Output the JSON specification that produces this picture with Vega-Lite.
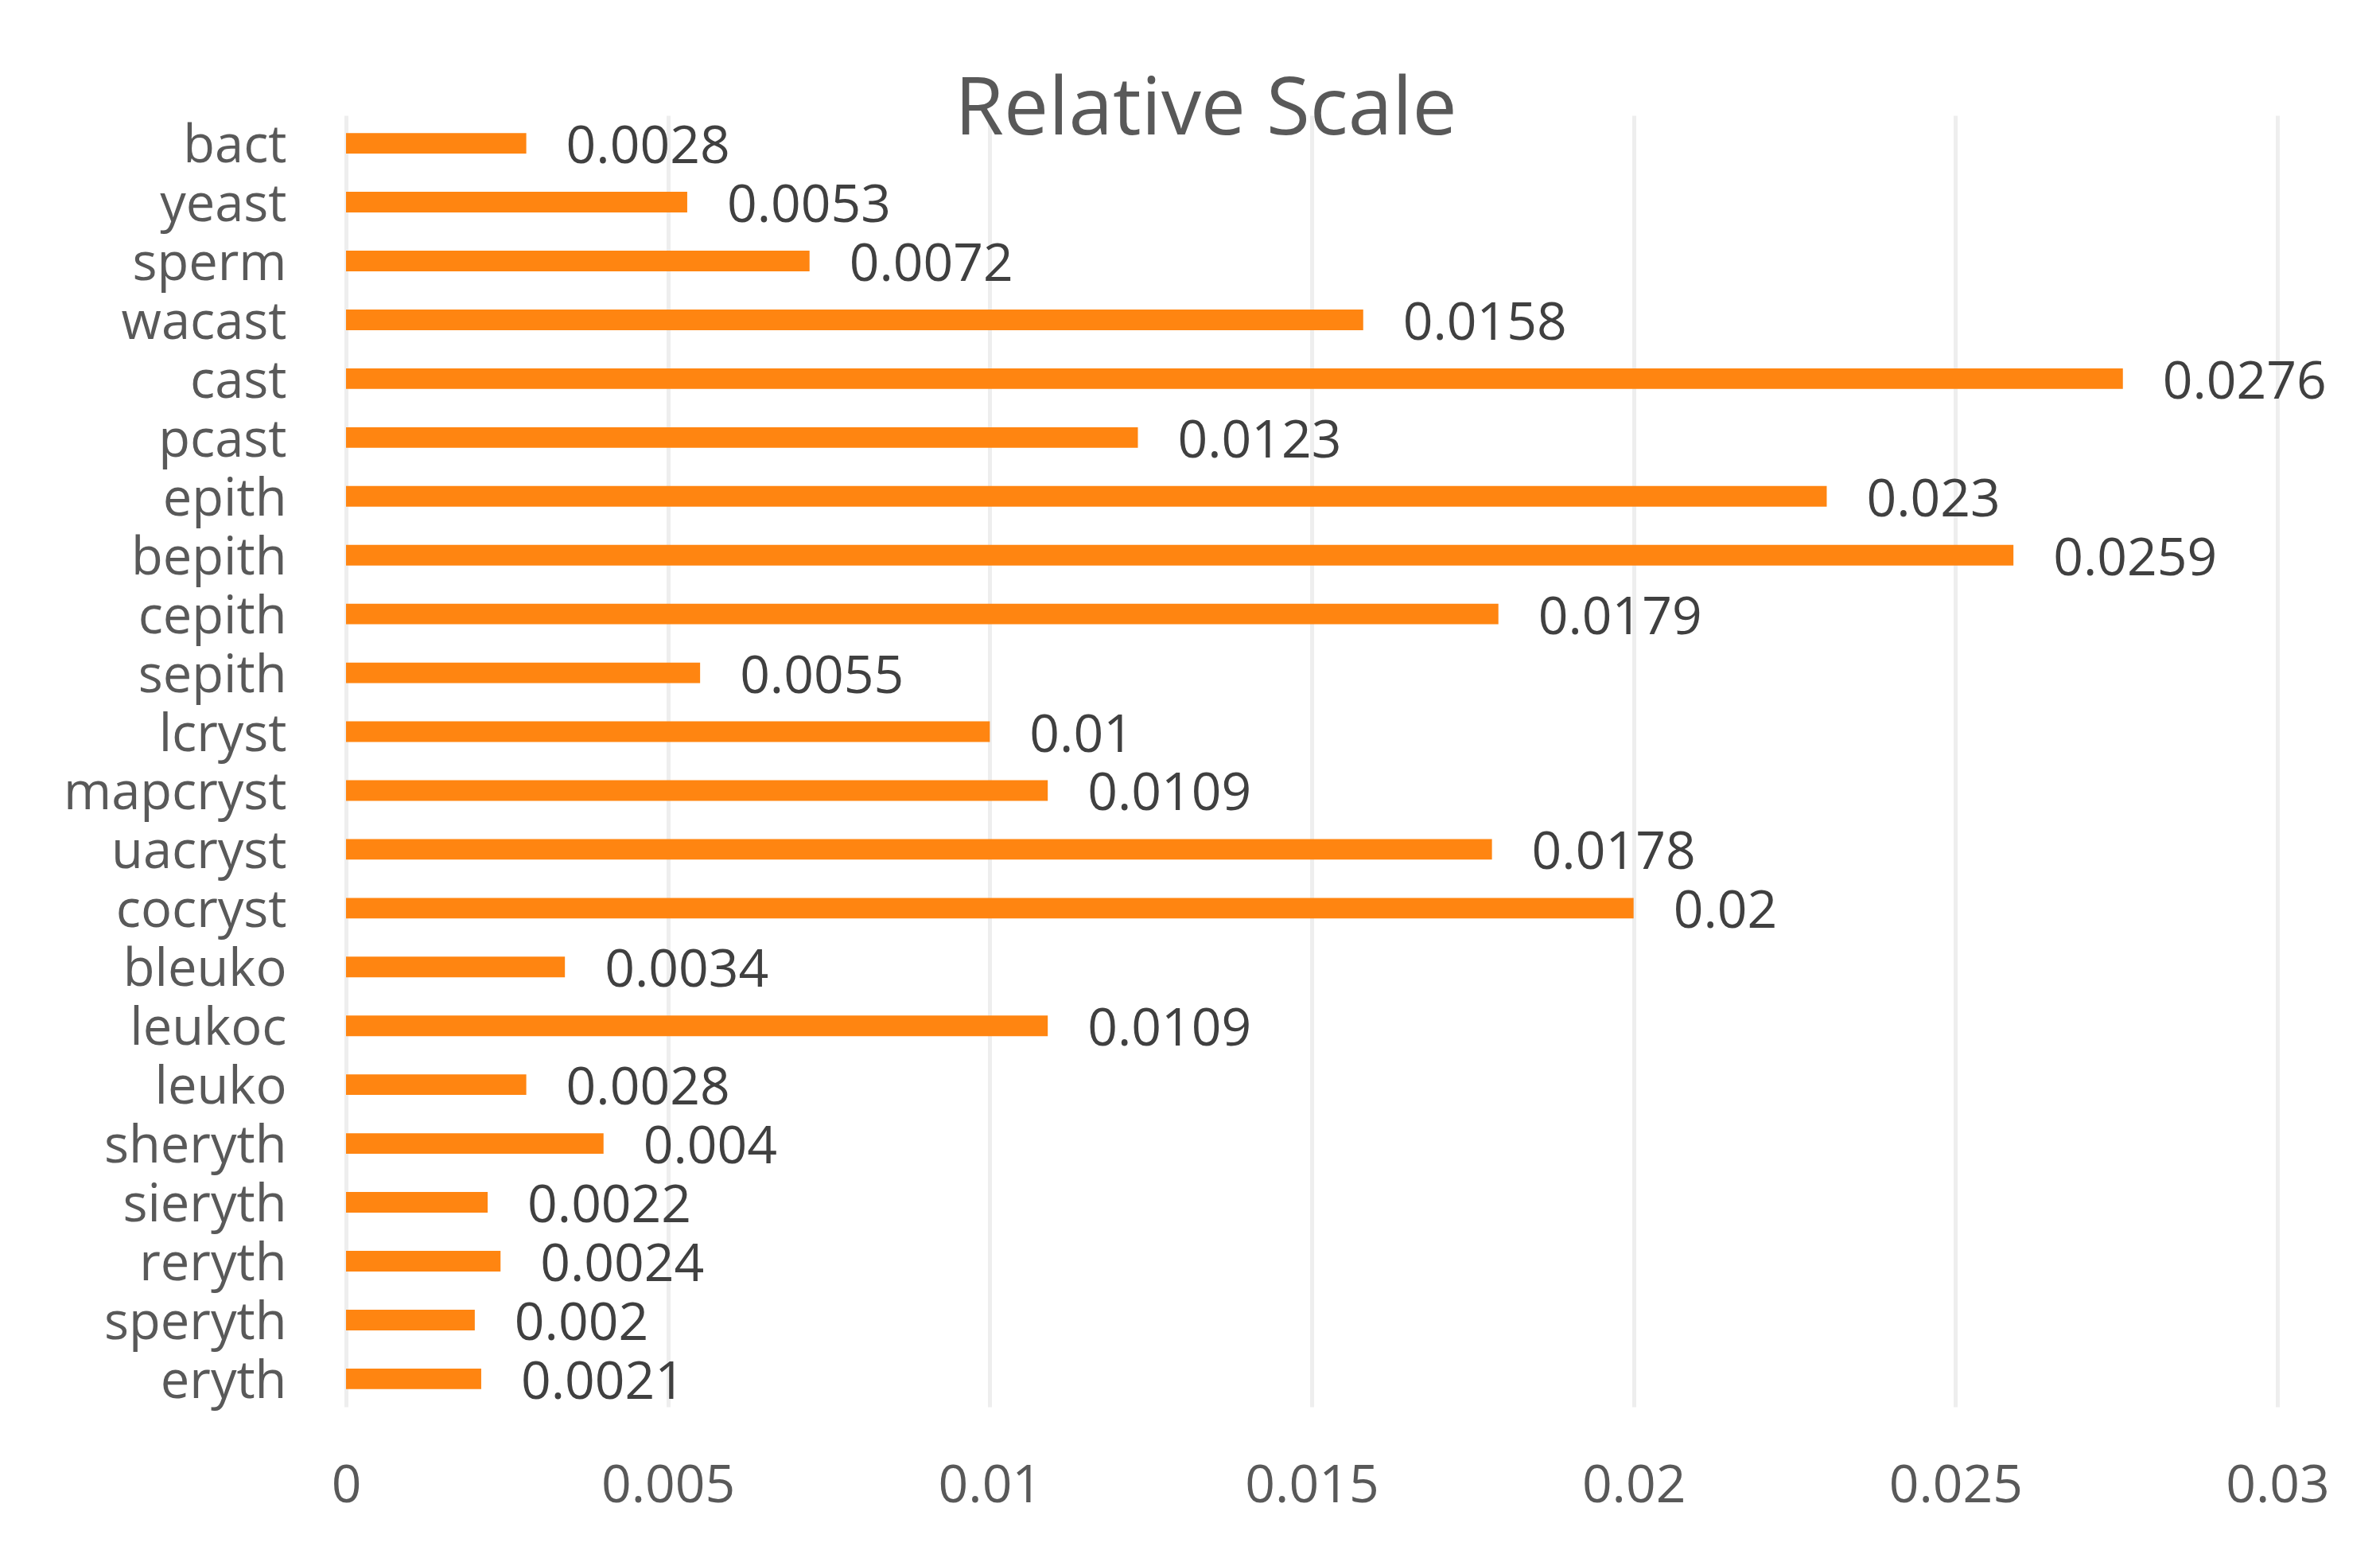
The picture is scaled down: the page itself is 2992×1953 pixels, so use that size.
{
  "$schema": "https://vega.github.io/schema/vega-lite/v6.json",
  "width": 2428,
  "height": 1623,
  "autosize": {"type": "none"},
  "padding": {"left": 435, "top": 145, "right": 129, "bottom": 185},
  "background": "white",
  "title": {
    "text": "Relative Scale",
    "font": "Open Sans",
    "fontSize": 100,
    "fontWeight": "normal",
    "color": "#595959",
    "anchor": "middle",
    "frame": "group",
    "baseline": "alphabetic",
    "dx": -133,
    "dy": 106,
    "offset": -18
  },
  "config": {"view": {"stroke": null}},
  "data": {
    "values": [
      {"name": "bact", "value": 0.0028},
      {"name": "yeast", "value": 0.0053},
      {"name": "sperm", "value": 0.0072},
      {"name": "wacast", "value": 0.0158},
      {"name": "cast", "value": 0.0276},
      {"name": "pcast", "value": 0.0123},
      {"name": "epith", "value": 0.023},
      {"name": "bepith", "value": 0.0259},
      {"name": "cepith", "value": 0.0179},
      {"name": "sepith", "value": 0.0055},
      {"name": "lcryst", "value": 0.01},
      {"name": "mapcryst", "value": 0.0109},
      {"name": "uacryst", "value": 0.0178},
      {"name": "cocryst", "value": 0.02},
      {"name": "bleuko", "value": 0.0034},
      {"name": "leukoc", "value": 0.0109},
      {"name": "leuko", "value": 0.0028},
      {"name": "sheryth", "value": 0.004},
      {"name": "sieryth", "value": 0.0022},
      {"name": "reryth", "value": 0.0024},
      {"name": "speryth", "value": 0.002},
      {"name": "eryth", "value": 0.0021}
    ]
  },
  "encoding": {
    "y": {
      "field": "name",
      "type": "nominal",
      "sort": null,
      "scale": {"paddingInner": 0.65, "paddingOuter": 0.3},
      "axis": {
        "title": null,
        "domain": false,
        "ticks": false,
        "labelFont": "Open Sans",
        "labelFontSize": 65,
        "labelColor": "#595959",
        "labelPadding": 75,
        "labelAlign": "right",
        "labelBaseline": "middle",
        "labelOffset": 4,
        "labelLimit": 0
      }
    },
    "x": {
      "field": "value",
      "type": "quantitative",
      "scale": {"domain": [0, 0.03], "nice": false},
      "axis": {
        "title": null,
        "domain": false,
        "ticks": false,
        "values": [0, 0.005, 0.01, 0.015, 0.02, 0.025, 0.03],
        "format": ".3~f",
        "labelFont": "Open Sans",
        "labelFontSize": 66,
        "labelColor": "#595959",
        "labelBaseline": "alphabetic",
        "labelPadding": 119,
        "labelFlush": false,
        "grid": true,
        "gridColor": "#eeeeee",
        "gridWidth": 5
      }
    }
  },
  "layer": [
    {"mark": {"type": "bar", "color": "#ff8511"}},
    {
      "mark": {
        "type": "text",
        "align": "left",
        "baseline": "middle",
        "dx": 50,
        "dy": 5,
        "font": "Open Sans",
        "fontSize": 66,
        "color": "#404040"
      },
      "encoding": {"text": {"field": "value", "type": "quantitative", "format": ".4~f"}}
    }
  ]
}
